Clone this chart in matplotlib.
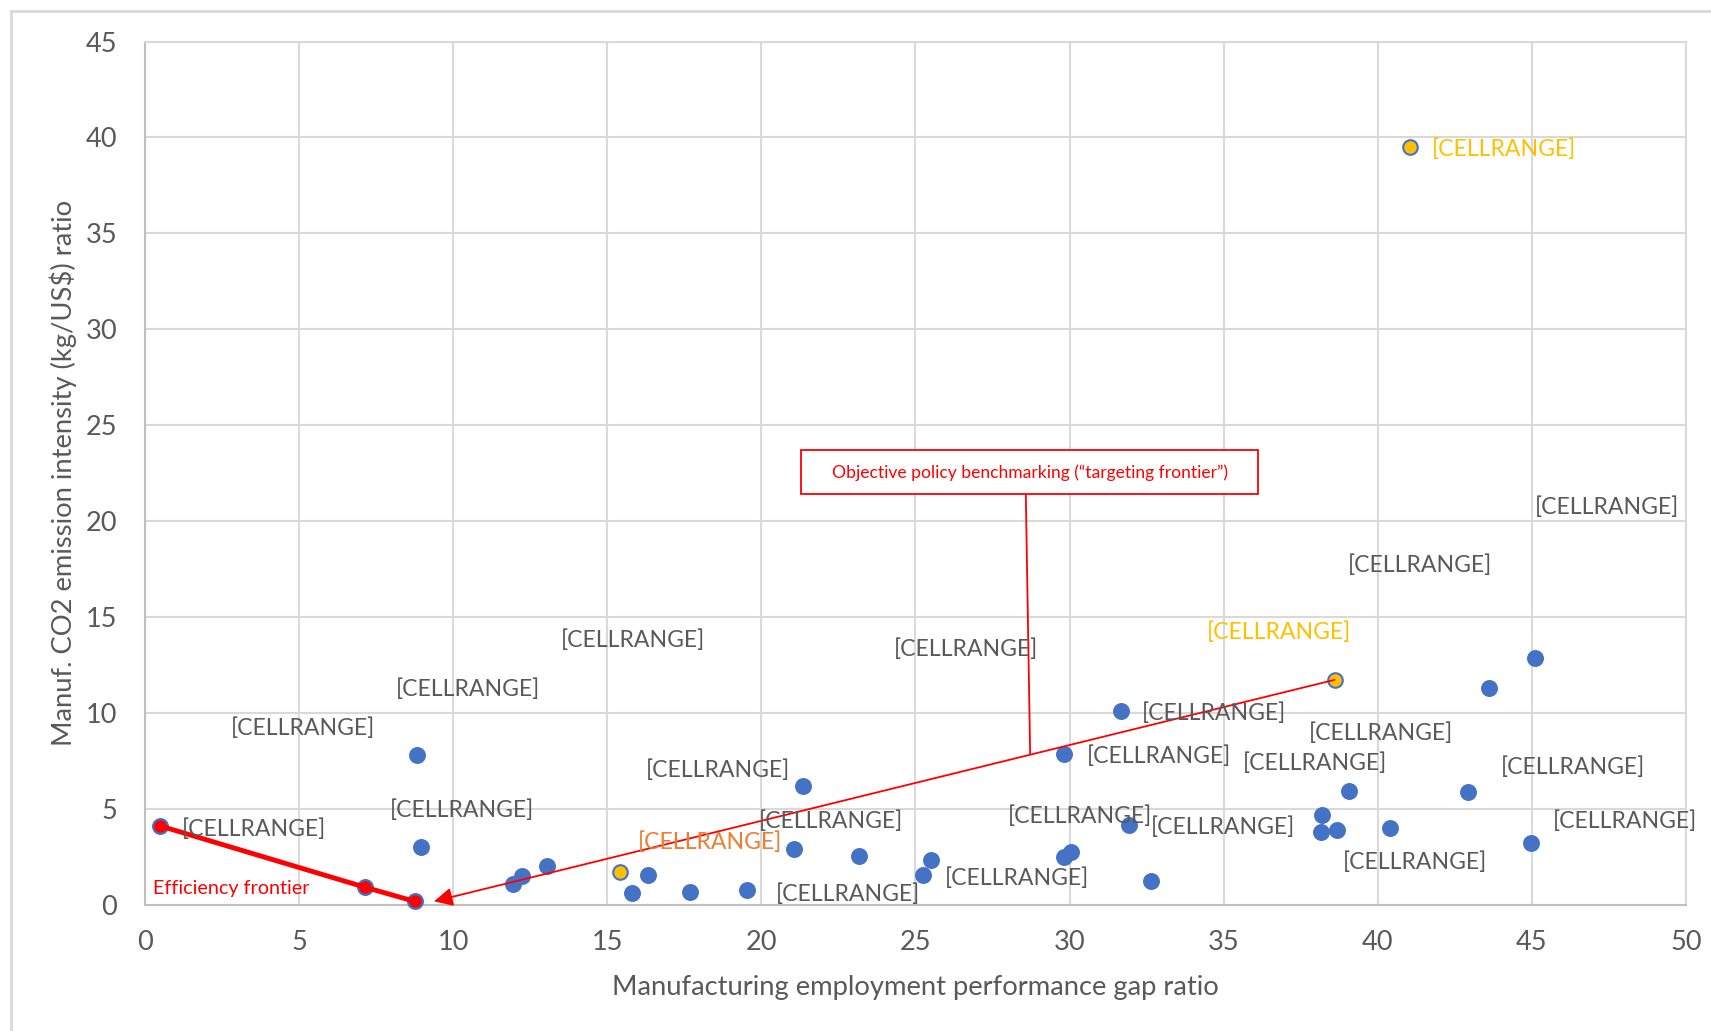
import matplotlib
matplotlib.use("Agg")
import matplotlib.pyplot as plt
from matplotlib.lines import Line2D
from matplotlib.patches import Rectangle

plt.rcParams['font.family'] = ['Lato', 'DejaVu Sans']

# Blue points (countries)
blue_x = [0.5, 7.15, 8.75, 8.82, 8.96, 11.93, 12.25, 13.03, 15.8, 16.32, 17.67, 19.55,
          21.07, 21.35, 23.16, 25.25, 25.5, 29.82, 30.06, 29.82, 31.66, 31.94, 32.65,
          38.2, 38.17, 38.67, 39.06, 40.4, 42.92, 43.6, 45.1, 44.97]
blue_y = [4.1, 0.9, 0.17, 7.8, 3.0, 1.08, 1.48, 2.0, 0.63, 1.54, 0.68, 0.74,
          2.9, 6.2, 2.56, 1.54, 2.33, 2.5, 2.73, 7.85, 10.1, 4.15, 1.25,
          4.66, 3.8, 3.9, 5.9, 3.98, 5.86, 11.3, 12.85, 3.19]

# Highlighted points
yellow_x = [15.4, 38.6, 41.04]
yellow_y = [1.7, 11.72, 39.5]

# Efficiency frontier
frontier_x = [0.5, 7.15, 8.75]
frontier_y = [4.1, 0.9, 0.17]

# Targeting frontier arrow: start and end
target_start = (38.6, 11.72)
target_end = (9.38, 0.17)

label_text = "[CELLRANGE]"
# label centres in data units and colour key
label_x = [3.55, 5.13, 10.48, 10.30, 15.83, 18.59, 22.27, 18.34, 22.80, 26.63, 28.29,
           34.70, 32.90, 30.35, 34.99, 36.79, 40.12, 37.96, 41.36, 47.45, 46.32, 48.02,
           41.22, 44.09]
label_y = [3.95, 9.18, 11.23, 4.92, 13.79, 7.02, 4.35, 3.27, 0.54, 13.33, 1.39,
           9.98, 7.76, 4.63, 4.06, 14.19, 8.95, 7.36, 17.71, 20.73, 7.19, 4.35,
           2.19, 39.4]
label_kind = ['g', 'g', 'g', 'g', 'g', 'g', 'g', 'o', 'g', 'g', 'g',
              'g', 'g', 'g', 'g', 'y', 'g', 'g', 'g', 'g', 'g', 'g',
              'g', 'y']

colors = {
    'blue': '#4472C4',
    'yellow': '#FFC000',
    'red': '#FF0000',
    'g': '#595959',
    'o': '#ED7D31',
    'y': '#FFC000',
    'grid': '#D9D9D9',
}

fig = plt.figure(figsize=(17.11, 10.31), dpi=100)
ax = fig.add_axes([0.0847, 0.1226, 0.9007, 0.8371])

ax.set_xlim(0, 50)
ax.set_ylim(0, 45)
ax.set_xticks(range(0, 51, 5))
ax.set_yticks(range(0, 46, 5))
ax.grid(True, color=colors['grid'], linewidth=1.5)
ax.set_axisbelow(True)
ax.tick_params(length=0, labelsize=19.5, labelcolor='#595959')
ax.tick_params(axis='x', pad=18)
ax.tick_params(axis='y', pad=20)
for side, sp in ax.spines.items():
    sp.set_color(colors['grid'])
    sp.set_linewidth(1.5)
ax.spines['left'].set_color('#BFBFBF')
ax.spines['bottom'].set_color('#BFBFBF')

ax.set_xlabel("Manufacturing employment performance gap ratio", fontsize=19.7,
              color='#595959', labelpad=15)
ax.set_ylabel("Manuf. CO2 emission intensity (kg/US$) ratio", fontsize=19.7,
              color='#595959', labelpad=6)

ax.scatter(blue_x, blue_y, s=125, color=colors['blue'], zorder=3, clip_on=False)
ax.scatter(yellow_x, yellow_y, s=110, color=colors['yellow'], edgecolors=colors['blue'],
           linewidths=1.5, zorder=3, clip_on=False)

# efficiency frontier
ax.plot(frontier_x, frontier_y, color=colors['red'], linewidth=3.5, marker='o',
        markersize=8, zorder=4, clip_on=False)
ax.text(0.25, 0.85, "Efficiency frontier", color=colors['red'], fontsize=14.2,
        ha='left', va='center', zorder=5)

# targeting frontier arrow
ax.annotate("", xy=target_end, xytext=target_start,
            arrowprops=dict(arrowstyle='-|>', color=colors['red'], lw=1.3,
                            mutation_scale=28, shrinkA=0, shrinkB=0), zorder=4)

# callout box
ax.plot([28.58, 28.72], [21.39, 7.9], color=colors['red'], linewidth=1.3, zorder=4)
ax.add_patch(Rectangle((21.28, 21.39), 36.12 - 21.28, 23.72 - 21.39, facecolor='white',
                       edgecolor=colors['red'], linewidth=1.3, zorder=4))
ax.text(28.7, 22.5, "Objective policy benchmarking (\u201ctargeting frontier\u201d)",
        color=colors['red'], fontsize=12.6, ha='center', va='center', zorder=5)

for lx, ly, k in zip(label_x, label_y, label_kind):
    ax.text(lx, ly, label_text, color=colors[k], fontsize=16.6, ha='center',
            va='center', zorder=5, clip_on=False)

# outer chart border
fig.add_artist(Line2D([11 / 1711, 11 / 1711], [0, 1 - 11 / 1031],
                      color='#D9D9D9', linewidth=2, transform=fig.transFigure))
fig.add_artist(Line2D([11 / 1711, 1], [1 - 11 / 1031, 1 - 11 / 1031],
                      color='#D9D9D9', linewidth=2, transform=fig.transFigure))

fig.savefig("out.png", dpi=100, facecolor='white')
